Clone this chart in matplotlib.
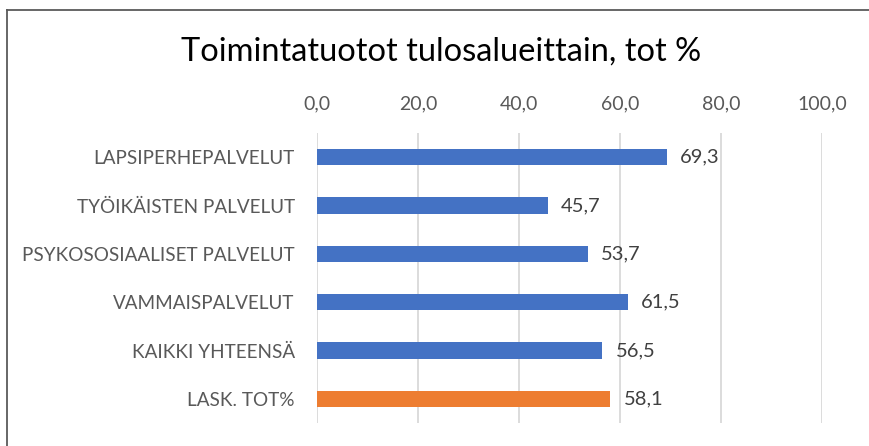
import matplotlib
matplotlib.use("Agg")
import matplotlib.pyplot as plt
from matplotlib.lines import Line2D

categories = ["LAPSIPERHEPALVELUT", "TYÖIKÄISTEN PALVELUT", "PSYKOSOSIAALISET PALVELUT",
              "VAMMAISPALVELUT", "KAIKKI YHTEENSÄ", "LASK. TOT%"]
values = [69.3, 45.7, 53.7, 61.5, 56.5, 58.1]
colors = ["#4472C4"] * 5 + ["#ED7D31"]
xticks = [0, 20, 40, 60, 80, 100]
title = "Toimintatuotot tulosalueittain, tot %"

plt.rcParams['font.family'] = ['Lato', 'DejaVu Sans']

fig = plt.figure(figsize=(8.7, 4.46), dpi=100)
ax = fig.add_axes([317/870, 1 - 423/446, (822 - 317)/870, (423 - 133)/446])

y = list(range(len(categories)))
ax.barh(y, values, height=0.34, color=colors, zorder=3)
for yi, v in zip(y, values):
    ax.text(v + 2.6, yi, f"{v:.1f}".replace(".", ","), va="center", ha="left",
            fontsize=14.5, color="#404040")

ax.set_ylim(len(categories) - 0.5, -0.5)
ax.set_xlim(0, 100)
ax.set_yticks(y)
ax.set_yticklabels(categories, fontsize=13.6, color="#595959")
ax.set_xticks(xticks)
ax.set_xticklabels([f"{t:.1f}".replace(".", ",") for t in xticks], fontsize=14, color="#595959")
ax.xaxis.tick_top()
ax.tick_params(axis="both", length=0)
ax.tick_params(axis="x", pad=15)
ax.tick_params(axis="y", pad=16)
for s in ax.spines.values():
    s.set_visible(False)
ax.grid(axis="x", color="#D9D9D9", linewidth=1.3, zorder=0)
ax.set_axisbelow(True)

fig.text(441/870, 1 - 52/446, title, ha="center", va="center", fontsize=23.5, color="#000000")

# outer frame (top and left edges visible)
fig.add_artist(Line2D([7/870, 1.01], [1 - 9.5/446, 1 - 9.5/446], transform=fig.transFigure,
                      color="#5A5A5A", linewidth=1.3))
fig.add_artist(Line2D([7.5/870, 7.5/870], [1 - 9.5/446, -0.01], transform=fig.transFigure,
                      color="#5A5A5A", linewidth=1.3))

fig.savefig("out.png", dpi=100)
